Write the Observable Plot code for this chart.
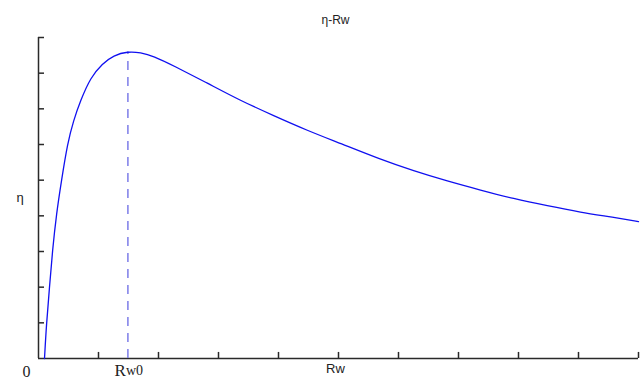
<!DOCTYPE html>
<html>
<head>
<meta charset="utf-8">
<script src="https://cdn.jsdelivr.net/npm/d3@7"></script>
<script src="https://cdn.jsdelivr.net/npm/@observablehq/plot@0.6"></script>
<style>
  html, body { margin: 0; padding: 0; background: #fff; }
</style>
</head>
<body>
<div id="chart"></div>
<script>
// Curve samples (x in Rw units, y in η units)
const rw  = [0.10, 0.133, 0.183, 0.233, 0.30, 0.383, 0.483, 0.583, 0.70, 0.867, 1.067, 1.25, 1.49, 1.70, 1.917, 2.25, 2.817, 3.367, 3.917, 4.483, 5.033, 5.70, 6.25, 6.817, 7.367, 7.917, 8.483, 9.033, 9.583, 10.0];
const eta = [0.00, 0.98, 1.99, 3.03, 4.07, 4.99, 6.03, 6.67, 7.23, 7.88, 8.27, 8.50, 8.61, 8.58, 8.48, 8.21, 7.72, 7.23, 6.81, 6.39, 6.03, 5.58, 5.26, 4.97, 4.72, 4.48, 4.28, 4.10, 3.96, 3.84];
const peakRw = [1.49];
const peakEta = [8.59];
const xTicks = [1, 2, 3, 4, 5, 6, 7, 8, 9, 10];
const yTicks = [1, 2, 3, 4, 5, 6, 7, 8, 9];
const titleText = "η-Rw";
const xLabel = "Rw";
const yLabel = "η";
const originLabel = "0";

const curve = rw.map((x, i) => ({x, y: eta[i]}));
const axisColor = "#2a2a2a";

const chart = Plot.plot({
  width: 643,
  height: 381,
  marginTop: 37,
  marginRight: 5,
  marginBottom: 23,
  marginLeft: 38,
  x: {domain: [0, 10], axis: null},
  y: {domain: [0, 9], axis: null},
  style: {background: "#fff", overflow: "visible"},
  marks: [
    // axes lines
    Plot.ruleY([0], {x1: 0, x2: 10, stroke: axisColor, strokeWidth: 1.5}),
    Plot.ruleX([0], {y1: 0, y2: 9, stroke: axisColor, strokeWidth: 1.5}),
    // inward ticks
    Plot.ruleX(xTicks, {x: d => d, y1: 0, y2: 0.17, stroke: axisColor, strokeWidth: 1.5}),
    Plot.ruleY(yTicks, {y: d => d, x1: 0, x2: 0.1, stroke: axisColor, strokeWidth: 1.5}),
    // dashed drop line at peak
    Plot.ruleX(peakRw, {x: d => d, y1: 0, y2: peakEta[0], stroke: "#7d7de8", strokeWidth: 1.5, strokeDasharray: "9,7"}),
    // curve
    Plot.line(curve, {x: "x", y: "y", stroke: "#1010f0", strokeWidth: 1.3, curve: "basis"}),
    // texts
    Plot.text([titleText], {frameAnchor: "top", text: d => d, dx: -3, dy: -22, fontSize: 12, fontFamily: "Liberation Sans, Arial, sans-serif", fill: "#222"}),
    Plot.text([xLabel], {frameAnchor: "bottom", text: d => d, dx: -3, dy: 14, fontSize: 13, fontFamily: "Liberation Sans, Arial, sans-serif", fill: "#222"}),
    Plot.text([yLabel], {frameAnchor: "left", text: d => d, dx: -22, fontSize: 13, fontFamily: "Liberation Sans, Arial, sans-serif", fill: "#222"}),
    Plot.text([originLabel], {x: 0, y: 0, text: d => d, dx: -12, dy: 13.5, fontSize: 16, fontFamily: "Liberation Serif, Times New Roman, serif", fill: "#222"}),
    Plot.text(["R"], {x: peakRw[0], y: 0, text: d => d, textAnchor: "end", dx: -2, dy: 11.6, fontSize: 17, fontFamily: "Liberation Serif, Times New Roman, serif", fill: "#222"}),
    Plot.text(["w0"], {x: peakRw[0], y: 0, text: d => d, textAnchor: "start", dx: -2, dy: 12.5, fontSize: 14, fontFamily: "Liberation Serif, Times New Roman, serif", fill: "#222"})
  ]
});
document.getElementById("chart").appendChild(chart);
</script>
</body>
</html>
